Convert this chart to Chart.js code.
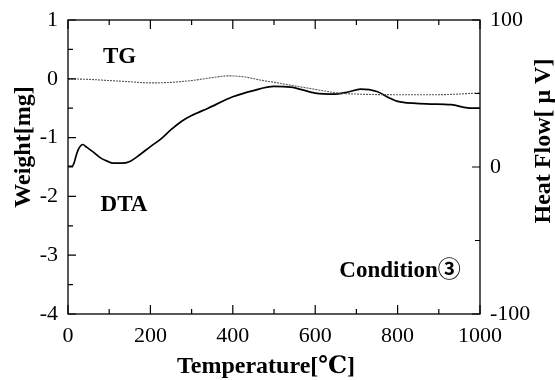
<!DOCTYPE html>
<html><head><meta charset="utf-8">
<script src="https://cdn.jsdelivr.net/npm/chart.js@4"></script>
<style>html,body{margin:0;padding:0;background:#fff}#wrap{width:555px;height:380px}</style>
</head><body><div id="wrap"><canvas id="c" width="555" height="380"></canvas></div>
<script>
// Data
const tgTemps  = [0, 50, 100, 150, 200, 250, 300, 350, 390, 430, 466, 500, 550, 600, 653, 700, 790, 900, 1000];
const tgWeight = [0, -0.01, -0.03, -0.05, -0.07, -0.06, -0.03, 0.02, 0.05, 0.03, -0.02, -0.06, -0.12, -0.18, -0.24, -0.26, -0.27, -0.27, -0.24];
const dtaTemps = [0, 10, 15, 20, 27, 36, 45, 60, 78, 95, 110, 130, 150, 175, 200, 225, 250, 275, 300, 340, 400, 450, 500, 540, 600, 650, 680, 710, 750, 780, 800, 870, 930, 975, 1000];
const dtaHeat  = [0.5, 0.5, 3, 8, 13, 15.3, 13.5, 10.5, 6.4, 4, 2.6, 2.6, 3.8, 8.5, 13.9, 19, 25.4, 31, 35, 40, 47.8, 52, 54.8, 54.4, 50.3, 49.6, 51, 53, 51.4, 47, 44.6, 43, 42.4, 40.1, 40];
const xTickLabels  = ['0', '200', '400', '600', '800', '1000'];
const yTickLabels  = ['-4', '-3', '-2', '-1', '0', '1'];
const y2TickLabels = ['-100', '0', '100'];
const annotations = [
  {text: 'TG', x: 125, y: 0.37},
  {text: 'DTA', x: 136, y: -2.14},
  {text: 'Condition③', x: 806, y: -3.27}
];
const xTitle = 'Temperature[℃]';
const yTitle = 'Weight[mg]';
const y2Title = 'Heat Flow[ μ V]';

const SERIF = '"Liberation Serif", "DejaVu Serif", "Noto Sans CJK JP", serif';

const framePlugin = {
  id: 'frame',
  afterDraw(chart) {
    const {ctx, chartArea: a, scales} = chart;
    ctx.save();
    ctx.strokeStyle = '#000';
    ctx.lineWidth = 1.3;
    ctx.strokeRect(a.left, a.top, a.right - a.left, a.bottom - a.top);
    ctx.lineWidth = 1.2;
    ctx.beginPath();
    scales.x.ticks.forEach(t => {
      const px = scales.x.getPixelForValue(t.value);
      const len = (t.value % 200 === 0) ? 9 : 5;
      ctx.moveTo(px, a.bottom); ctx.lineTo(px, a.bottom - len);
      ctx.moveTo(px, a.top); ctx.lineTo(px, a.top + len);
    });
    scales.y.ticks.forEach(t => {
      const py = scales.y.getPixelForValue(t.value);
      const len = Number.isInteger(t.value) ? 8 : 5;
      ctx.moveTo(a.left, py); ctx.lineTo(a.left + len, py);
    });
    scales.y2.ticks.forEach(t => {
      const py = scales.y2.getPixelForValue(t.value);
      const len = (t.value % 100 === 0) ? 8 : 5;
      ctx.moveTo(a.right, py); ctx.lineTo(a.right - len, py);
    });
    ctx.stroke();

    ctx.fillStyle = '#000';
    ctx.font = 'bold 23px ' + SERIF;
    ctx.textAlign = 'center';
    ctx.textBaseline = 'middle';
    annotations.forEach(an => {
      ctx.fillText(an.text, scales.x.getPixelForValue(an.x), scales.y.getPixelForValue(an.y));
    });

    ctx.font = 'bold 24px ' + SERIF;
    ctx.textBaseline = 'alphabetic';
    ctx.fillText(xTitle, (a.left + a.right) / 2 - 8, 373);

    ctx.save();
    ctx.translate(30, (a.top + a.bottom) / 2 - 20);
    ctx.rotate(-Math.PI / 2);
    ctx.fillText(yTitle, 0, 0);
    ctx.restore();

    ctx.save();
    ctx.translate(550, (a.top + a.bottom) / 2 - 26);
    ctx.rotate(-Math.PI / 2);
    ctx.fillText(y2Title, 0, 0);
    ctx.restore();
    ctx.restore();
  }
};

const tickFont = {family: SERIF, size: 22};

new Chart(document.getElementById('c'), {
  type: 'line',
  data: {
    datasets: [
      {
        label: 'TG',
        data: tgTemps.map((t, i) => ({x: t, y: tgWeight[i]})),
        yAxisID: 'y',
        borderColor: '#555',
        borderWidth: 1.1,
        borderDash: [2, 1],
        pointRadius: 0,
        cubicInterpolationMode: 'monotone'
      },
      {
        label: 'DTA',
        data: dtaTemps.map((t, i) => ({x: t, y: dtaHeat[i]})),
        yAxisID: 'y2',
        borderColor: '#000',
        borderWidth: 1.7,
        pointRadius: 0,
        cubicInterpolationMode: 'monotone'
      }
    ]
  },
  options: {
    responsive: false,
    animation: false,
    devicePixelRatio: 1,
    layout: {padding: {top: 20, left: 0, right: 0, bottom: 0}},
    plugins: {legend: {display: false}, tooltip: {enabled: false}},
    scales: {
      x: {
        type: 'linear', min: 0, max: 1000,
        grid: {display: false}, border: {display: false},
        ticks: {
          stepSize: 100, autoSkip: false, maxRotation: 0, color: '#000', font: tickFont, padding: 1,
          callback: v => (v % 200 === 0 ? xTickLabels[v / 200] : '')
        },
        afterFit: s => { s.height = 66; }
      },
      y: {
        position: 'left', min: -4, max: 1,
        grid: {display: false}, border: {display: false},
        ticks: {
          stepSize: 0.5, autoSkip: false, color: '#000', font: tickFont, padding: 2,
          callback: v => (Number.isInteger(v) ? yTickLabels[v + 4] : '')
        },
        afterFit: s => { s.width = 68; }
      },
      y2: {
        position: 'right', min: -100, max: 100,
        grid: {display: false}, border: {display: false},
        ticks: {
          stepSize: 50, autoSkip: false, color: '#000', font: tickFont, padding: 2,
          callback: v => (v % 100 === 0 ? y2TickLabels[v / 100 + 1] : '')
        },
        afterFit: s => { s.width = 75; }
      }
    }
  },
  plugins: [framePlugin]
});
</script>
</body></html>
